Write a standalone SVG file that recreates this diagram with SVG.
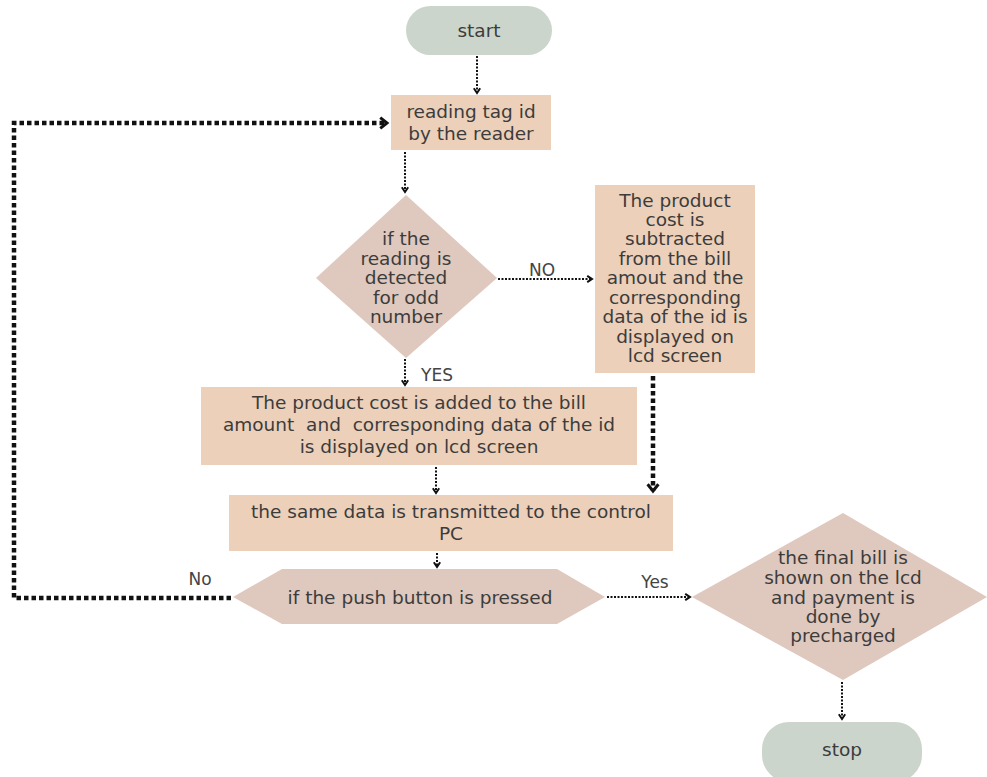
<svg xmlns="http://www.w3.org/2000/svg" width="987" height="777" viewBox="0 0 987 777">
<style>
text{font-family:"DejaVu Sans","Liberation Sans",sans-serif;font-size:18.5px;fill:#3c3c3c;text-anchor:middle;dominant-baseline:central}
.term{fill:#cbd5cb}
.box{fill:#ecd0ba}
.dec{fill:#dfc8bd}
.thin{fill:none;stroke:#111;stroke-width:2;stroke-dasharray:2 1.5}
.thick{fill:none;stroke:#111;stroke-width:4.5;stroke-dasharray:4.5 3}
.lbl{font-size:17px;fill:#444}
</style>
<defs>
<marker id="ah" viewBox="0 0 10 10" refX="8" refY="5" markerWidth="4" markerHeight="4" orient="auto" markerUnits="strokeWidth">
<path d="M2,1 L8,5 L2,9" fill="none" stroke="#111" stroke-width="2.5"/>
</marker>
<marker id="ahb" viewBox="0 0 10 10" refX="7" refY="5" markerWidth="3" markerHeight="4" orient="auto" markerUnits="strokeWidth">
<path d="M2,1 L7,5 L2,9" fill="none" stroke="#111" stroke-width="2.2"/>
</marker>
</defs>
<g id="connectors">
<path class="thin" d="M477,56 V93" marker-end="url(#ah)"/>
<path class="thin" d="M405,152 V192" marker-end="url(#ah)"/>
<path class="thin" d="M498,279 H592" marker-end="url(#ah)"/>
<path class="thin" d="M405,359 V385" marker-end="url(#ah)"/>
<path class="thick" d="M653,376 V491" marker-end="url(#ahb)"/>
<path class="thin" d="M436,467 V493" marker-end="url(#ah)"/>
<path class="thin" d="M437,553 V567" marker-end="url(#ah)"/>
<path class="thin" d="M607,597 H690" marker-end="url(#ah)"/>
<path class="thin" d="M842,682 V719" marker-end="url(#ah)"/>
<path class="thick" d="M231,598 H14 V123 H387" marker-end="url(#ahb)"/>
<text class="lbl" x="542" y="270">NO</text>
<text class="lbl" x="437" y="375">YES</text>
<text class="lbl" x="655" y="582">Yes</text>
<text class="lbl" x="200" y="579">No</text>
</g>
<g id="start">
<rect class="term" x="406" y="6" width="146" height="49" rx="24.5"/>
<text x="479" y="30">start</text>
</g>
<g id="read">
<rect class="box" x="391" y="95" width="160" height="55"/>
<text x="471" y="111">reading tag id</text>
<text x="471" y="133">by the reader</text>
</g>
<g id="decision1">
<polygon class="dec" points="406,195 497,278 406,358 316,278"/>
<text x="406" y="238">if the</text>
<text x="406" y="258">reading is</text>
<text x="406" y="277">detected</text>
<text x="406" y="297">for odd</text>
<text x="406" y="316">number</text>
</g>
<g id="subtract">
<rect class="box" x="595" y="185" width="160" height="188"/>
<text x="675" y="200">The product</text>
<text x="675" y="219">cost is</text>
<text x="675" y="238">subtracted</text>
<text x="675" y="258">from the bill</text>
<text x="675" y="277">amout and the</text>
<text x="675" y="297">corresponding</text>
<text x="675" y="316">data of the id is</text>
<text x="675" y="336">displayed on</text>
<text x="675" y="355">lcd screen</text>
</g>
<g id="add">
<rect class="box" x="201" y="387" width="436" height="78"/>
<text x="419" y="402">The product cost is added to the bill</text>
<text x="419" y="424" xml:space="preserve">amount  and  corresponding data of the id</text>
<text x="419" y="446">is displayed on lcd screen</text>
</g>
<g id="transmit">
<rect class="box" x="229" y="495" width="444" height="56"/>
<text x="451" y="511">the same data is transmitted to the control</text>
<text x="451" y="533">PC</text>
</g>
<g id="push">
<polygon class="dec" points="233,597 282,569 557,569 605,597 557,624 282,624"/>
<text x="420" y="597">if the push button is pressed</text>
</g>
<g id="final">
<polygon class="dec" points="843,513 987,597 843,680 692,597"/>
<text x="843" y="557">the final bill is</text>
<text x="843" y="577">shown on the lcd</text>
<text x="843" y="597">and payment is</text>
<text x="843" y="616">done by</text>
<text x="843" y="635">precharged</text>
</g>
<g id="stop">
<rect class="term" x="762" y="722" width="160" height="60" rx="27"/>
<text x="842" y="749">stop</text>
</g>
</svg>
